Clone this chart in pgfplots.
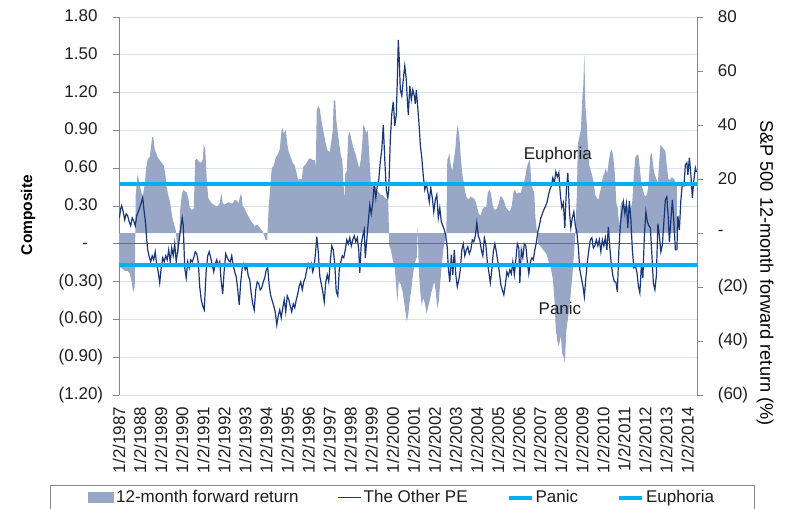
\documentclass[border=0pt]{standalone}
\usepackage{fontspec}
\setmainfont{Liberation Sans}
\usepackage{pgfplots}
\pgfplotsset{compat=1.18}
\definecolor{areacol}{RGB}{151,167,197}
\definecolor{pecol}{RGB}{23,55,122}
\definecolor{cyanl}{RGB}{0,176,240}
\definecolor{gridc}{RGB}{218,225,240}
\definecolor{axc}{RGB}{134,134,134}
\definecolor{zeroc}{RGB}{105,105,105}
\definecolor{txt}{RGB}{30,30,30}
\newcommand{\fs}{\fontsize{17bp}{20bp}\selectfont}
\begin{document}
\fs
\begin{tikzpicture}
\path[use as bounding box] (0bp,0bp) rectangle (788bp,-509bp);
\pgfplotsset{
  base/.style={
    at={(119bp,-395bp)}, anchor=south west,
    width=578bp, height=378bp, scale only axis,
    xmin=1987, xmax=2014.45,
    every tick label/.append style={font=\fs, text=txt},
    tick align=outside, major tick length=6bp,
  }
}
% ---------- left axis: grid, left ticks, x labels
\begin{axis}[base,
  ymin=-1.2, ymax=1.8,
  axis y line*=left, axis x line*=bottom,
  x axis line style={draw=none},
  y axis line style={draw=axc, line width=0.8bp},
  xtick={1987,...,2014},
  xticklabels={1/2/1987,1/2/1988,1/2/1989,1/2/1990,1/2/1991,1/2/1992,1/2/1993,1/2/1994,1/2/1995,1/2/1996,1/2/1997,1/2/1998,1/2/1999,1/2/2000,1/2/2001,1/2/2002,1/2/2003,1/2/2004,1/2/2005,1/2/2006,1/2/2007,1/2/2008,1/2/2009,1/2/2010,1/2/2011,1/2/2012,1/2/2013,1/2/2014},
  xtick style={draw=none},
  xticklabel style={rotate=90, anchor=east},
  ytick={-1.2,-0.9,-0.6,-0.3,0,0.3,0.6,0.9,1.2,1.5,1.8},
  yticklabels={(1.20),(0.90),(0.60),(0.30),-\phantom{0)},0.30\phantom{)},0.60\phantom{)},0.90\phantom{)},1.20\phantom{)},1.50\phantom{)},1.80\phantom{)}},
  yticklabel style={anchor=east, xshift=-4bp},
  ytick style={draw=axc, line width=0.8bp},
  ymajorgrids, grid style={draw=gridc, line width=0.9bp},
  ylabel={\fontsize{15.5bp}{18bp}\selectfont\bfseries Composite},
  every axis y label/.style={at={(axis description cs:-0.1574,0.476)}, rotate=90, anchor=center},
]
\end{axis}
% ---------- right axis: 12-month forward return (area)
\begin{axis}[base,
  ymin=-60, ymax=80,
  axis y line*=right, axis x line=none,
  xtick=\empty,
  y axis line style={draw=axc, line width=0.8bp},
  ytick={-60,-40,-20,0,20,40,60,80},
  yticklabels={(60),(40),(20),-,20,40,60,80},
  yticklabel style={anchor=west, xshift=9bp},
  ytick style={draw=axc, line width=0.8bp},
  ylabel={\fontsize{18.2bp}{21bp}\selectfont S\&P 500 12-month forward return (\%)},
  every axis y label/.style={at={(axis description cs:1.1176,0.3228)}, rotate=-90, anchor=center},
]
\addplot[draw=none, fill=areacol] table {
x y
1987.010 -12.5
1987.128 -13
1987.271 -14
1987.413 -14
1987.508 -15
1987.603 -18
1987.675 -22
1987.746 -20
1987.774 0
1987.793 14
1987.888 22
1987.960 19
1988.031 16
1988.126 13.5
1988.221 18
1988.292 24
1988.363 27.5
1988.458 28
1988.506 31
1988.577 35.5
1988.625 35.5
1988.696 31
1988.767 29.6
1988.838 28
1988.934 27
1989.029 26
1989.124 25
1989.195 22
1989.266 17
1989.337 14
1989.409 12
1989.480 8.5
1989.551 5
1989.622 3
1989.694 1
1989.765 -5
1989.836 -8
1989.907 8.5
1989.979 14
1990.050 16
1990.121 15.5
1990.216 15
1990.287 13
1990.359 9.6
1990.454 8.5
1990.549 9
1990.620 27
1990.691 27.5
1990.786 26.5
1990.881 26
1990.976 27
1991.024 32.6
1991.095 31
1991.166 20
1991.238 13
1991.309 12
1991.404 11
1991.499 10.5
1991.594 10
1991.689 10
1991.784 11
1991.855 15
1991.926 11
1992.021 10.5
1992.116 11
1992.211 11.4
1992.306 11
1992.401 11
1992.496 12.3
1992.592 12
1992.663 11
1992.734 13
1992.805 14.8
1992.876 10
1992.971 9
1993.066 7.3
1993.161 6
1993.256 4.5
1993.351 3.6
1993.446 2.5
1993.541 3
1993.637 2.5
1993.732 1.5
1993.827 0.5
1993.898 -1
1993.969 -2.7
1994.040 -2.5
1994.112 10
1994.183 17
1994.254 24
1994.349 25
1994.444 28
1994.539 29
1994.634 31
1994.705 37
1994.753 39
1994.824 37
1994.919 38
1994.990 33
1995.062 30
1995.157 28
1995.252 26
1995.347 25
1995.442 22
1995.513 19.6
1995.584 20
1995.679 20
1995.751 24.5
1995.822 25
1995.917 26
1996.012 27.5
1996.107 27.6
1996.202 27
1996.297 27
1996.344 24.5
1996.392 45.5
1996.463 47
1996.534 46
1996.606 42
1996.677 39
1996.748 36
1996.819 33
1996.914 30.5
1997.009 30
1997.081 34
1997.152 38
1997.200 49.3
1997.271 49
1997.318 42
1997.390 37
1997.461 33
1997.532 29
1997.603 27
1997.651 20
1997.713 12
1997.746 22
1997.817 23
1997.888 36
1997.960 37.4
1998.055 34
1998.150 31
1998.245 29
1998.340 26
1998.411 24
1998.482 27
1998.553 33
1998.601 40
1998.672 39
1998.743 37
1998.815 38
1998.886 29
1998.957 19
1999.052 17
1999.147 18
1999.242 16
1999.337 15
1999.433 14
1999.528 14
1999.622 13
1999.717 12.5
1999.789 11
1999.836 -5
1999.907 -6
2000.002 -10
2000.097 -13
2000.169 -20
2000.216 -25.5
2000.287 -18
2000.382 -19
2000.477 -22
2000.549 -26
2000.620 -30
2000.668 -33
2000.739 -30
2000.810 -25
2000.881 -21
2000.952 -16
2001.024 -12
2001.095 -10
2001.142 -9
2001.190 2
2001.237 -14
2001.309 -22
2001.380 -27
2001.451 -24
2001.522 -26
2001.617 -30
2001.689 -27
2001.760 -25
2001.831 -22
2001.902 -20
2001.974 -18
2002.045 -22
2002.116 -28
2002.188 -25
2002.259 -18
2002.330 -12
2002.401 -6
2002.473 -3
2002.544 -1
2002.591 27
2002.639 28
2002.686 29.6
2002.757 25
2002.828 23
2002.900 27
2002.971 31
2003.042 38
2003.090 40
2003.161 36
2003.233 28
2003.304 22
2003.375 18.5
2003.446 15
2003.518 13
2003.613 12.5
2003.708 13.5
2003.803 13
2003.898 12.3
2003.993 10
2004.088 7
2004.183 6.5
2004.254 8.5
2004.349 9.6
2004.444 9.6
2004.516 15
2004.587 16
2004.658 14.8
2004.753 10
2004.848 8.5
2004.943 9
2005.038 11
2005.109 13.5
2005.181 13.5
2005.276 12
2005.371 9.6
2005.466 8.5
2005.561 8
2005.656 10
2005.727 14.8
2005.798 16
2005.893 14.5
2005.988 15
2006.083 14.8
2006.154 17
2006.226 18.5
2006.297 21
2006.368 24.5
2006.439 26
2006.511 27
2006.582 19
2006.653 16
2006.724 15
2006.772 6
2006.843 1
2006.914 -4
2007.033 -5
2007.128 -6
2007.223 -7
2007.318 -8
2007.413 -11
2007.508 -13
2007.603 -17
2007.675 -24
2007.746 -36
2007.817 -40
2007.888 -42
2007.983 -38
2008.055 -45
2008.126 -46
2008.173 -48
2008.245 -36
2008.316 -32
2008.387 -28
2008.458 -22
2008.530 -16
2008.601 -8
2008.648 -3
2008.696 6
2008.743 13.5
2008.791 33
2008.862 35.6
2008.933 38
2009.005 50
2009.052 55
2009.100 66.7
2009.147 47
2009.219 40
2009.266 32
2009.337 25
2009.409 23
2009.480 21
2009.551 18
2009.622 14
2009.694 13
2009.765 12.3
2009.836 15
2009.907 17
2009.979 21
2010.050 22
2010.121 24
2010.192 22
2010.264 27
2010.335 30
2010.406 31
2010.477 28
2010.549 22
2010.620 11
2010.691 9
2010.762 2
2010.834 11
2010.929 12
2011.024 10
2011.119 9.5
2011.214 10.5
2011.309 9
2011.380 12
2011.451 22
2011.523 28
2011.594 29
2011.665 29
2011.736 24
2011.808 18
2011.879 16
2011.950 14
2012.022 13.5
2012.093 15
2012.164 19.6
2012.235 29
2012.307 29.6
2012.378 24
2012.449 21.5
2012.520 20
2012.592 18.5
2012.639 24.5
2012.710 32.6
2012.781 32
2012.877 31
2012.948 30.5
2013.019 24.5
2013.091 20
2013.162 19.6
2013.257 20.7
2013.352 20
2013.423 19
2013.494 18.5
} \closedcycle;
% zero axis of the left scale (left 0 = right -4) with yearly tick marks
\addplot[zeroc, line width=1bp, forget plot] coordinates {(1987,-4) (2014.45,-4)};
\addplot[zeroc, line width=1bp, forget plot, const plot, jump mark left] table {
x y
1987 -4
1987 -5.85
1987 -4
1988 -4
1988 -5.85
1988 -4
1989 -4
1989 -5.85
1989 -4
1990 -4
1990 -5.85
1990 -4
1991 -4
1991 -5.85
1991 -4
1992 -4
1992 -5.85
1992 -4
1993 -4
1993 -5.85
1993 -4
1994 -4
1994 -5.85
1994 -4
1995 -4
1995 -5.85
1995 -4
1996 -4
1996 -5.85
1996 -4
1997 -4
1997 -5.85
1997 -4
1998 -4
1998 -5.85
1998 -4
1999 -4
1999 -5.85
1999 -4
2000 -4
2000 -5.85
2000 -4
2001 -4
2001 -5.85
2001 -4
2002 -4
2002 -5.85
2002 -4
2003 -4
2003 -5.85
2003 -4
2004 -4
2004 -5.85
2004 -4
2005 -4
2005 -5.85
2005 -4
2006 -4
2006 -5.85
2006 -4
2007 -4
2007 -5.85
2007 -4
2008 -4
2008 -5.85
2008 -4
2009 -4
2009 -5.85
2009 -4
2010 -4
2010 -5.85
2010 -4
2011 -4
2011 -5.85
2011 -4
2012 -4
2012 -5.85
2012 -4
2013 -4
2013 -5.85
2013 -4
2014 -4
2014 -5.85
2014 -4
};
\end{axis}
% ---------- overlay: The Other PE, thresholds, legend
\begin{axis}[base,
  ymin=-1.2, ymax=1.8, hide axis,
  legend columns=4,
  legend image code/.code={\draw[#1] (0bp,0bp) -- (23bp,0bp);},
  legend style={at={(axis description cs:-0.1194,-0.2381)}, anchor=north west,
    draw=axc, line width=0.8bp, fill=white, inner xsep=38bp, inner ysep=3bp,
    font=\fs, text=txt,
    cells={anchor=west, inner xsep=0.5bp},
    /tikz/every even column/.append style={column sep=37bp}},
]
\addlegendimage{legend image code/.code={\fill[areacol] (0bp,-5bp) rectangle (25bp,5bp);}}
\addlegendentry{12-month forward return}
\addplot[pecol, line width=1.2bp] table {
x y
1987.019 0.206
1987.081 0.278
1987.128 0.302
1987.200 0.254
1987.271 0.190
1987.342 0.238
1987.413 0.222
1987.485 0.175
1987.556 0.143
1987.627 0.206
1987.698 0.183
1987.770 0.143
1987.841 0.222
1987.912 0.254
1987.983 0.286
1988.055 0.325
1988.126 0.365
1988.197 0.254
1988.268 0.151
1988.316 0.032
1988.363 -0.048
1988.435 -0.103
1988.506 -0.143
1988.577 -0.095
1988.648 -0.127
1988.720 -0.063
1988.791 -0.167
1988.862 -0.222
1988.934 -0.310
1989.005 -0.190
1989.076 -0.111
1989.147 -0.143
1989.219 -0.095
1989.290 -0.127
1989.361 -0.048
1989.432 -0.143
1989.504 -0.032
1989.575 -0.095
1989.646 0.000
1989.717 -0.143
1989.789 -0.048
1989.860 0.032
1989.931 0.127
1990.002 0.206
1990.050 0.151
1990.121 -0.190
1990.192 -0.270
1990.264 -0.143
1990.335 -0.190
1990.406 -0.127
1990.477 -0.143
1990.549 -0.111
1990.620 -0.063
1990.691 -0.079
1990.762 -0.143
1990.834 -0.341
1990.905 -0.444
1990.976 -0.492
1991.048 -0.524
1991.095 -0.365
1991.143 -0.206
1991.214 -0.095
1991.285 -0.063
1991.356 -0.111
1991.428 -0.167
1991.499 -0.222
1991.570 -0.159
1991.641 -0.127
1991.713 -0.175
1991.784 -0.143
1991.855 -0.302
1991.926 -0.397
1991.998 -0.206
1992.069 -0.079
1992.140 -0.111
1992.211 -0.135
1992.283 -0.143
1992.354 -0.095
1992.425 -0.175
1992.496 -0.222
1992.568 -0.262
1992.639 -0.365
1992.710 -0.484
1992.781 -0.302
1992.853 -0.190
1992.924 -0.159
1992.995 -0.206
1993.066 -0.175
1993.138 -0.254
1993.209 -0.286
1993.280 -0.397
1993.351 -0.476
1993.423 -0.524
1993.494 -0.365
1993.565 -0.302
1993.637 -0.317
1993.708 -0.365
1993.779 -0.349
1993.850 -0.302
1993.922 -0.270
1993.993 -0.206
1994.064 -0.190
1994.135 -0.333
1994.207 -0.413
1994.278 -0.452
1994.349 -0.492
1994.420 -0.540
1994.492 -0.643
1994.563 -0.571
1994.634 -0.524
1994.705 -0.587
1994.777 -0.508
1994.848 -0.444
1994.919 -0.540
1994.990 -0.413
1995.062 -0.444
1995.133 -0.492
1995.204 -0.540
1995.275 -0.476
1995.347 -0.508
1995.418 -0.444
1995.489 -0.397
1995.561 -0.333
1995.632 -0.302
1995.703 -0.365
1995.774 -0.302
1995.846 -0.270
1995.917 -0.206
1995.988 -0.159
1996.059 -0.190
1996.131 -0.159
1996.202 -0.222
1996.273 -0.175
1996.344 -0.048
1996.392 0.056
1996.463 -0.063
1996.534 -0.254
1996.606 -0.317
1996.677 -0.381
1996.748 -0.460
1996.819 -0.302
1996.891 -0.246
1996.962 -0.302
1997.033 -0.143
1997.104 -0.016
1997.176 -0.048
1997.247 -0.159
1997.318 -0.381
1997.390 -0.413
1997.461 -0.206
1997.532 -0.143
1997.603 -0.095
1997.675 -0.111
1997.746 -0.048
1997.817 0.032
1997.888 0.000
1997.960 0.048
1998.031 -0.016
1998.102 0.032
1998.173 0.063
1998.245 0.016
1998.316 0.048
1998.387 -0.048
1998.435 -0.230
1998.506 0.000
1998.577 0.063
1998.648 0.111
1998.696 -0.111
1998.767 0.032
1998.838 0.175
1998.910 0.310
1998.981 0.238
1999.052 0.325
1999.123 0.476
1999.195 0.365
1999.266 0.460
1999.337 0.508
1999.409 0.651
1999.480 0.746
1999.551 0.944
1999.622 0.667
1999.694 0.429
1999.765 0.365
1999.812 0.429
1999.884 0.825
1999.955 1.032
2000.026 1.127
2000.097 0.937
2000.169 1.024
2000.216 1.286
2000.264 1.619
2000.311 1.460
2000.359 1.222
2000.430 1.175
2000.501 1.302
2000.572 1.413
2000.644 1.302
2000.691 1.143
2000.739 1.024
2000.810 1.254
2000.881 1.143
2000.952 1.222
2001.024 1.175
2001.071 1.111
2001.119 1.222
2001.190 1.079
2001.261 0.921
2001.309 0.786
2001.380 0.683
2001.451 0.540
2001.522 0.429
2001.594 0.476
2001.665 0.413
2001.736 0.333
2001.807 0.444
2001.879 0.365
2001.950 0.254
2002.021 0.349
2002.093 0.389
2002.164 0.206
2002.235 0.286
2002.306 0.175
2002.378 0.143
2002.449 0.111
2002.520 0.063
2002.591 -0.032
2002.639 -0.190
2002.710 -0.302
2002.781 -0.087
2002.853 -0.246
2002.924 -0.048
2002.995 -0.246
2003.066 -0.341
2003.138 -0.286
2003.209 -0.206
2003.280 -0.048
2003.351 0.000
2003.423 -0.095
2003.494 -0.048
2003.565 -0.024
2003.637 -0.079
2003.708 -0.048
2003.779 0.032
2003.850 0.016
2003.922 0.063
2003.993 0.167
2004.064 0.063
2004.135 0.032
2004.207 -0.048
2004.278 -0.095
2004.349 0.048
2004.420 0.000
2004.492 -0.143
2004.563 -0.222
2004.634 -0.310
2004.706 -0.206
2004.777 -0.063
2004.848 0.000
2004.919 -0.063
2004.991 -0.143
2005.062 -0.222
2005.133 -0.325
2005.204 -0.365
2005.276 -0.405
2005.347 -0.325
2005.418 -0.222
2005.489 -0.254
2005.561 -0.206
2005.632 -0.238
2005.703 -0.143
2005.774 -0.246
2005.846 -0.127
2005.917 0.000
2005.988 -0.032
2006.036 -0.310
2006.107 -0.048
2006.178 -0.111
2006.249 0.000
2006.321 -0.016
2006.392 -0.143
2006.463 -0.238
2006.534 -0.143
2006.606 -0.111
2006.677 -0.127
2006.748 -0.048
2006.819 0.008
2006.891 0.095
2006.962 0.143
2007.033 0.206
2007.104 0.238
2007.176 0.270
2007.247 0.294
2007.318 0.325
2007.390 0.381
2007.461 0.429
2007.532 0.460
2007.603 0.524
2007.675 0.484
2007.746 0.571
2007.817 0.532
2007.888 0.563
2007.960 0.389
2008.031 0.286
2008.102 0.325
2008.173 0.127
2008.245 0.429
2008.316 0.563
2008.387 0.270
2008.458 0.127
2008.530 0.206
2008.601 0.254
2008.672 0.143
2008.743 0.095
2008.815 -0.032
2008.886 -0.206
2008.957 -0.270
2009.029 -0.333
2009.100 -0.421
2009.171 -0.270
2009.242 -0.143
2009.314 -0.048
2009.385 0.032
2009.456 0.048
2009.527 -0.032
2009.599 -0.016
2009.670 0.032
2009.741 -0.016
2009.812 0.032
2009.884 -0.063
2009.955 0.032
2010.026 -0.016
2010.097 0.048
2010.169 -0.048
2010.240 0.135
2010.311 -0.032
2010.382 -0.167
2010.454 -0.254
2010.525 -0.302
2010.596 -0.302
2010.667 -0.381
2010.739 -0.048
2010.810 0.151
2010.881 0.254
2010.953 0.333
2011.024 0.238
2011.095 0.317
2011.166 0.127
2011.238 0.341
2011.309 0.190
2011.380 -0.048
2011.451 -0.190
2011.523 -0.175
2011.594 -0.222
2011.665 -0.333
2011.736 -0.389
2011.808 -0.175
2011.879 -0.270
2011.950 0.063
2012.022 0.254
2012.093 0.175
2012.164 0.143
2012.235 0.127
2012.307 -0.087
2012.378 -0.310
2012.449 -0.365
2012.520 -0.254
2012.592 0.159
2012.663 0.063
2012.734 -0.063
2012.805 -0.008
2012.877 0.175
2012.948 0.349
2013.019 0.373
2013.091 0.190
2013.138 0.016
2013.209 0.190
2013.281 0.349
2013.352 0.175
2013.423 -0.048
2013.494 -0.048
2013.542 0.222
2013.613 0.111
2013.684 0.349
2013.755 0.476
2013.827 0.460
2013.898 0.627
2013.969 0.643
2014.017 0.548
2014.088 0.683
2014.159 0.548
2014.230 0.365
2014.302 0.508
2014.373 0.603
2014.420 0.571
};
\addlegendentry{The Other PE}
\addplot[cyanl, line width=4bp] coordinates {(1987,-0.165) (2014.45,-0.165)};
\addlegendentry{Panic}
\addplot[cyanl, line width=4bp] coordinates {(1987,0.475) (2014.45,0.475)};
\addlegendentry{Euphoria}
\node[text=txt, font=\fs] at (axis cs:2007.84,0.706) {Euphoria};
\node[text=txt, font=\fs] at (axis cs:2007.94,-0.516) {Panic};
\end{axis}
\end{tikzpicture}
\end{document}
